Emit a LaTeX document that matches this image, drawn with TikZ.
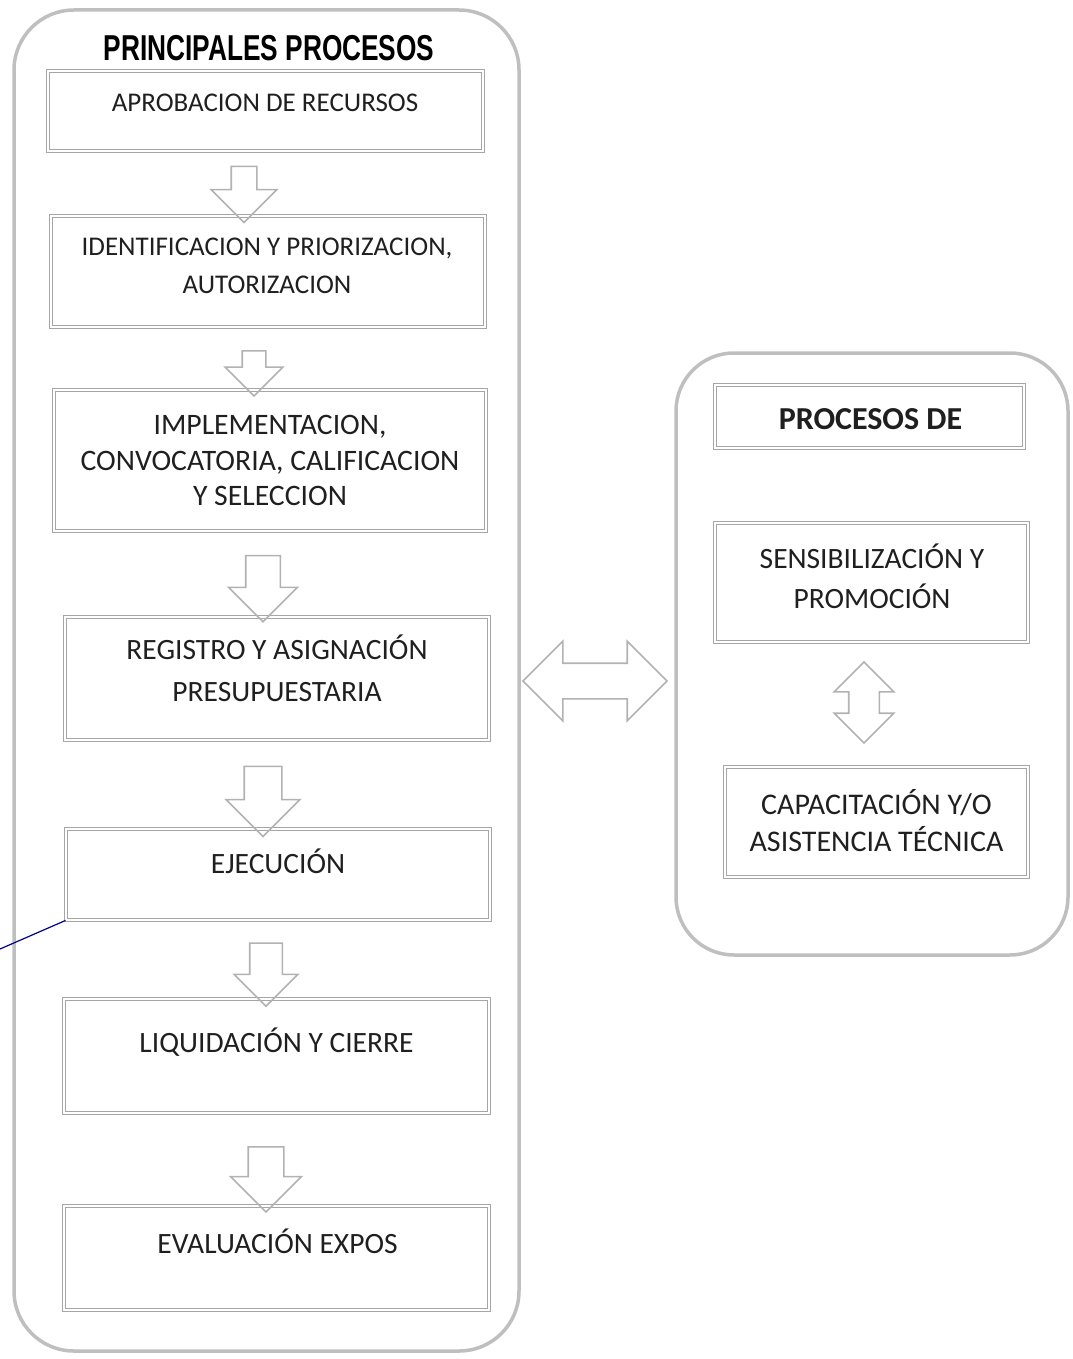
\documentclass[tikz,border=0pt]{standalone}
\usepackage{fontspec}
\setmainfont{Carlito}
\newfontfamily\titlefont{Liberation Sans}
\usetikzlibrary{shapes.arrows}

\tikzset{
  frame/.style={draw=gray!50, line width=3.5pt, rounded corners=60pt},
  procbox/.style={draw=gray!70, double, double distance=2.5pt, line width=0.9pt},
  boxtext/.style={align=center, text=black!88, font=\fontsize{29.5}{38}\selectfont},
  downarrow/.style n args={3}{single arrow, draw=gray!60, line width=1.6pt,
    shape border rotate=270, minimum height=#1, inner sep=#2,
    single arrow head extend=#3},
  bothways/.style n args={4}{double arrow, draw=gray!60, line width=1.6pt,
    shape border rotate=#1, minimum height=#2, inner sep=#3,
    double arrow head extend=#4},
}

\begin{document}
\begin{tikzpicture}[x=1pt, y=-1pt]
    \useasboundingbox (0,0) rectangle (1072,1359);
    % main process column
    \node (main) [frame, minimum width=505, minimum height=1341] at (266.5,680.5) {};
    \node (title) at (269,48) {\fontsize{36}{40}\titlefont\bfseries\scalebox{0.73}[1]{PRINCIPALES PROCESOS}};
    \node (b1) [procbox, minimum width=435, minimum height=80] at (265.5,111) {};
    \node (b2) [procbox, minimum width=434, minimum height=111] at (268,271.5) {};
    \node (b3) [procbox, minimum width=432, minimum height=141] at (270,460.5) {};
    \node (b4) [procbox, minimum width=424, minimum height=123] at (277,678.5) {};
    \node (b5) [procbox, minimum width=424, minimum height=91] at (278,874.5) {};
    \node (b6) [procbox, minimum width=425, minimum height=114] at (276.5,1056) {};
    \node (b7) [procbox, minimum width=425, minimum height=104] at (276.5,1258) {};
    \node (t1) [boxtext, font=\fontsize{27}{38}\selectfont] at (265,103) {APROBACION DE RECURSOS};
    \node (t2) [boxtext, font=\fontsize{27}{38}\selectfont] at (267,266) {IDENTIFICACION Y PRIORIZACION,\\AUTORIZACION};
    \node (t3) [boxtext, font=\fontsize{29.7}{35.5}\selectfont] at (270,460.5) {IMPLEMENTACION,\\CONVOCATORIA, CALIFICACION\\Y SELECCION};
    \node (t4) [boxtext, font=\fontsize{29.5}{42}\selectfont] at (277,668) {REGISTRO Y ASIGNACIÓN\\PRESUPUESTARIA};
    \node (t5) [boxtext] at (278,861) {EJECUCIÓN};
    \node (t6) [boxtext] at (276.5,1042) {LIQUIDACIÓN Y CIERRE};
    \node (t7) [boxtext] at (277.5,1241) {EVALUACIÓN EXPOS};
    % hollow arrows between the steps
    \node (a1) [downarrow={56}{12}{20}] at (244,188) {};
    \node (a2) [downarrow={45}{11}{17}] at (254,367.5) {};
    \node (a3) [downarrow={66}{16.5}{17}] at (263,580) {};
    \node (a4) [downarrow={70}{18}{18}] at (263,792) {};
    \node (a5) [downarrow={63}{15.5}{15.5}] at (266,966.5) {};
    \node (a6) [downarrow={65}{17}{17.5}] at (266,1170.5) {};
    \node (link) [bothways={0}{144}{17}{22}] at (595,681) {};
    % side column
    \node (side) [frame, rounded corners=58pt, minimum width=392, minimum height=602] at (872,654) {};
    \node (r1) [procbox, minimum width=309, minimum height=63] at (869.5,416.5) {};
    \node (r2) [procbox, minimum width=313, minimum height=119] at (871.5,582.5) {};
    \node (r3) [procbox, minimum width=303, minimum height=110] at (876.5,822) {};
    \node (s1) [boxtext, font=\fontsize{32}{36}\bfseries] at (870.5,419) {PROCESOS DE};
    \node (s2) [boxtext, font=\fontsize{29.5}{40}\selectfont] at (872,576) {SENSIBILIZACIÓN Y\\PROMOCIÓN};
    \node (s3) [boxtext, font=\fontsize{30}{37}\selectfont] at (876.5,821) {CAPACITACIÓN Y/O\\ASISTENCIA TÉCNICA};
    \node (a7) [bothways={90}{81}{14.5}{14.5}] at (864,702.5) {};
    % stray pen stroke at the left margin
    \coordinate (pen) at (0,949);
    \draw[blue!55!black, line width=1.2pt] (b5.south west) -- (pen);
\end{tikzpicture}
\end{document}
